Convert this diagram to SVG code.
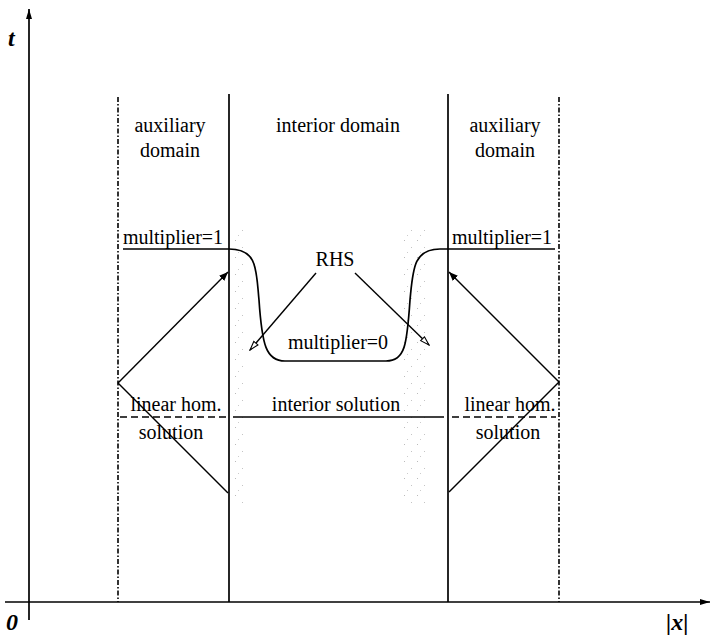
<svg xmlns="http://www.w3.org/2000/svg" width="711" height="635" viewBox="0 0 711 635">
<style>
.t{font-family:"Liberation Serif","Times New Roman",serif;font-size:20px;fill:#000;text-anchor:middle}
.ax{font-family:"Liberation Serif","Times New Roman",serif;font-size:24px;font-weight:bold;font-style:italic;fill:#000}
.s{stroke:#000;stroke-width:1.7;fill:none}
.dd{stroke:#000;stroke-width:1.6;fill:none;stroke-dasharray:5 2 1.5 2}
.da{stroke:#000;stroke-width:1.4;fill:none;stroke-dasharray:7 4}
.ar{stroke:#000;stroke-width:1.4;fill:none}
</style>
<defs>
<marker id="ah" viewBox="0 0 10 10" refX="10" refY="5" markerWidth="9" markerHeight="9" orient="auto" markerUnits="userSpaceOnUse">
<path d="M0,1 L10,5 L0,9 z" fill="#000"/>
</marker>
<marker id="axh" viewBox="0 0 10 10" refX="10" refY="5" markerWidth="10" markerHeight="10" orient="auto" markerUnits="userSpaceOnUse">
<path d="M0,2 L10,5 L0,8 z" fill="#000"/>
</marker>
<marker id="oh" viewBox="0 0 12 10" refX="11" refY="5" markerWidth="11" markerHeight="9" orient="auto" markerUnits="userSpaceOnUse">
<path d="M1,2 L11,5 L1,8 z" fill="#fff" stroke="#000" stroke-width="1.2"/>
</marker>
<pattern id="spk" width="13" height="17" patternUnits="userSpaceOnUse">
<rect x="1" y="2" width="1" height="1" fill="#bbb"/>
<rect x="8" y="9" width="1" height="1" fill="#c4c4c4"/>
<rect x="4" y="14" width="1" height="1" fill="#ccc"/>
</pattern>
</defs>
<g id="shading">
<rect x="231" y="225" width="15" height="280" fill="url(#spk)"/>
<rect x="403" y="225" width="24" height="280" fill="url(#spk)"/>
</g>
<g id="axes">
<line class="s" x1="29" y1="620" x2="29" y2="9" marker-end="url(#axh)"/>
<line class="s" x1="5" y1="602" x2="710" y2="602" marker-end="url(#axh)"/>
<text class="ax" x="8" y="46">t</text>
<text class="ax" x="6" y="630">0</text>
<text class="ax" x="666" y="630">|x|</text>
</g>
<g id="boundaries">
<line class="dd" x1="118" y1="97" x2="118" y2="602"/>
<line class="dd" x1="559" y1="97" x2="559" y2="602"/>
<line class="s" x1="229" y1="94" x2="229" y2="602"/>
<line class="s" x1="448" y1="94" x2="448" y2="602"/>
</g>
<g id="labels">
<text class="t" x="170" y="132">auxiliary</text>
<text class="t" x="170" y="157">domain</text>
<text class="t" x="338" y="132">interior domain</text>
<text class="t" x="505" y="132">auxiliary</text>
<text class="t" x="505" y="157">domain</text>
</g>
<g id="multiplier">
<path class="s" d="M123,249 L229,249 C258,249 256,270 259,300 C262,345 266,361 285,361 L386,361 C405,361 407,345 410,300 C413,270 413,249 440,249 L555,249"/>
<text class="t" x="173" y="244">multiplier=1</text>
<text class="t" x="502" y="244">multiplier=1</text>
<text class="t" x="338" y="349">multiplier=0</text>
</g>
<g id="rhs">
<text class="t" x="335" y="266">RHS</text>
</g>
<g id="solutions">
<line class="s" x1="233" y1="417" x2="444" y2="417"/>
<text class="t" x="336" y="411">interior solution</text>
<line class="da" x1="120" y1="417" x2="226" y2="417"/>
<line class="da" x1="452" y1="417" x2="556" y2="417"/>
<text class="t" x="176" y="411">linear  hom.</text>
<text class="t" x="171" y="439">solution</text>
<text class="t" x="510" y="411">linear hom.</text>
<text class="t" x="508" y="439">solution</text>
</g>
<g id="connectors">
<line class="ar" x1="316" y1="273" x2="250" y2="350" marker-end="url(#oh)"/>
<line class="ar" x1="355" y1="273" x2="429" y2="345" marker-end="url(#oh)"/>
<line class="ar" x1="118" y1="383" x2="228" y2="272" marker-end="url(#ah)"/>
<line class="ar" x1="118" y1="383" x2="228" y2="493"/>
<line class="ar" x1="559" y1="382" x2="449" y2="272" marker-end="url(#ah)"/>
<line class="ar" x1="559" y1="382" x2="449" y2="492"/>
</g>
</svg>
